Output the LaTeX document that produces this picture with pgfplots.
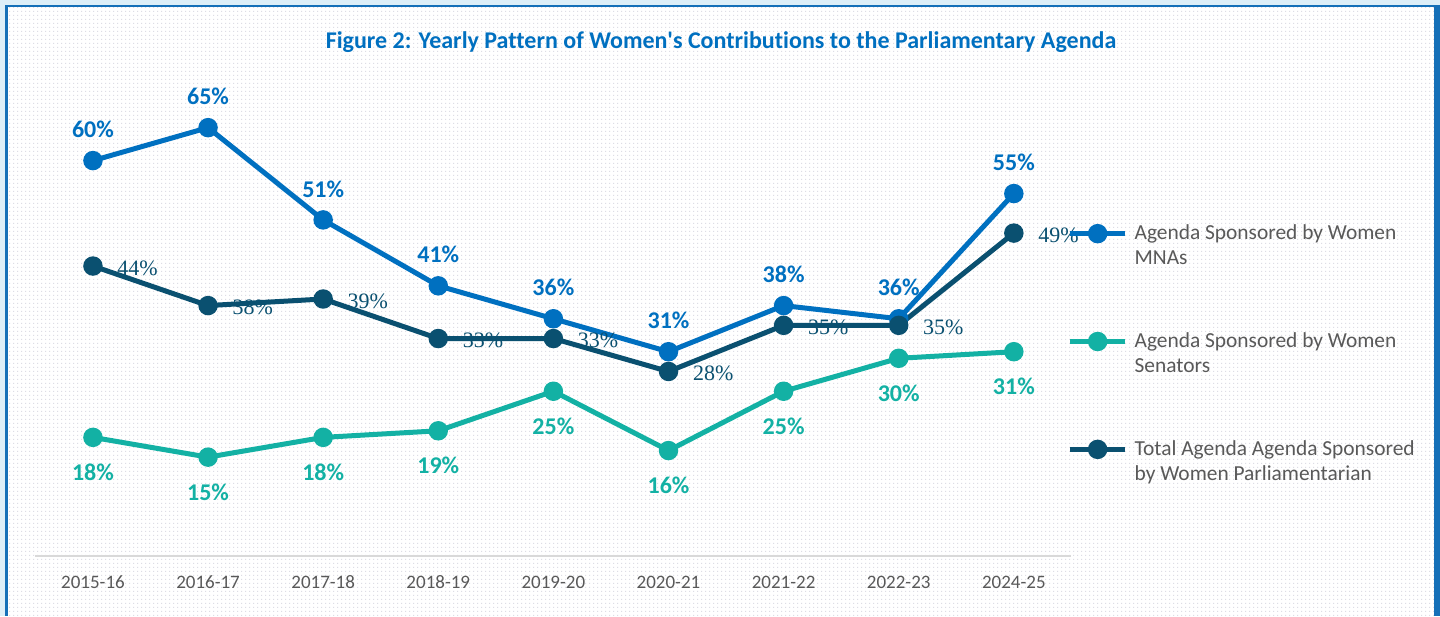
\documentclass[border=0pt]{standalone}
\usepackage{pgfplots}
\pgfplotsset{compat=1.18}
\usepackage{fontspec}
\setmainfont{Carlito}[Ligatures={NoCommon}]
\newfontfamily\serifnum{Liberation Serif}
\usetikzlibrary{patterns.meta}
\definecolor{mna}{HTML}{0070C0}
\definecolor{sen}{HTML}{13B1A4}
\definecolor{tot}{HTML}{0A5070}
\definecolor{frameblue}{HTML}{1570B8}
\definecolor{framebg}{HTML}{DDEFF8}
\definecolor{dotc}{HTML}{DDDDE5}
\definecolor{txt}{HTML}{595959}
\definecolor{axgray}{HTML}{D9D9D9}
\tikzdeclarepattern{name=bgdots, type=uncolored, bounding box={(0pt,0pt) and (2pt,2pt)}, tile size={(2pt,2pt)}, code={\fill (0.65pt,0.65pt) rectangle (1.3pt,1.3pt);}}

\begin{document}
\begin{tikzpicture}[x=1pt,y=1pt]
\useasboundingbox (0,0) rectangle (720,308);
\fill[framebg] (0,0) rectangle (720,308);
\fill[white] (2.5,0) rectangle (720,305.5);
\fill[pattern={bgdots}, pattern color=dotc] (2.5,0) rectangle (720,305.5);
\fill[frameblue] (2.5,0) rectangle (4,305.5);
\fill[frameblue] (2.5,304.7) rectangle (720,305.5);
\fill[frameblue] (717,0) rectangle (720,305.5);
\node[font=\bfseries\fontsize{12}{14}\selectfont, text=mna] at (360.5,287) {Figure 2: Yearly Pattern of Women\textquotesingle s Contributions to the Parliamentary Agenda};
\begin{axis}[
  at={(17.7pt,30pt)}, anchor=south west,
  scale only axis, width=518pt, height=230.65pt,
  xmin=-0.5, xmax=8.5, ymin=0, ymax=70,
  axis x line=bottom, axis y line=none,
  x axis line style={-, draw=axgray, line width=1pt},
  xtick={0,...,8},
  xticklabels={2015-16,2016-17,2017-18,2018-19,2019-20,2020-21,2021-22,2022-23,2024-25},
  xtick style={draw=none},
  xticklabel style={anchor=center, yshift=-11pt, text=txt, font=\fontsize{9.5}{11}\selectfont},
  ytick=\empty,
  clip=false,
  /pgf/number format/assume math mode=true,
  every axis plot/.append style={line width=2.5pt, mark=*, mark size=3.6pt},
  legend style={at={(0.996,0.719)}, anchor=north west, draw=none, fill=none,
    inner sep=0pt, column sep=3.5pt, row sep=32.5pt,
    font=\fontsize{10.7}{12.5}\selectfont, text=txt,
    nodes={inner sep=0pt}, cells={anchor=west, align=left}},
  legend image code/.code={\draw[mark repeat=2, mark phase=2, #1] plot coordinates {(0pt,6.25pt) (13.75pt,6.25pt) (27.5pt,6.25pt)};},
]
\addplot[color=mna, nodes near coords={\pgfmathprintnumber{\pgfplotspointmeta}\%},
  every node near coord/.style={anchor=center, yshift=15.5pt, font=\bfseries\fontsize{12}{14}\selectfont, text=mna}]
  coordinates {(0,60) (1,65) (2,51) (3,41) (4,36) (5,31) (6,38) (7,36) (8,55)};
\addlegendentry{Agenda Sponsored by Women\\MNAs}
\addplot[color=sen, nodes near coords={\pgfmathprintnumber{\pgfplotspointmeta}\%},
  every node near coord/.style={anchor=center, yshift=-17.5pt, font=\bfseries\fontsize{12}{14}\selectfont, text=sen}]
  coordinates {(0,18) (1,15) (2,18) (3,19) (4,25) (5,16) (6,25) (7,30) (8,31)};
\addlegendentry{Agenda Sponsored by Women\\Senators}
\addplot[color=tot, nodes near coords={\pgfmathprintnumber{\pgfplotspointmeta}\%},
  every node near coord/.style={anchor=west, inner sep=0pt, xshift=11pt, yshift=-1pt, font=\serifnum\fontsize{11}{13}\selectfont, text=tot}]
  coordinates {(0,44) (1,38) (2,39) (3,33) (4,33) (5,28) (6,35) (7,35) (8,49)};
\addlegendentry{Total Agenda Agenda Sponsored\\by Women Parliamentarian}
\end{axis}
\end{tikzpicture}
\end{document}
